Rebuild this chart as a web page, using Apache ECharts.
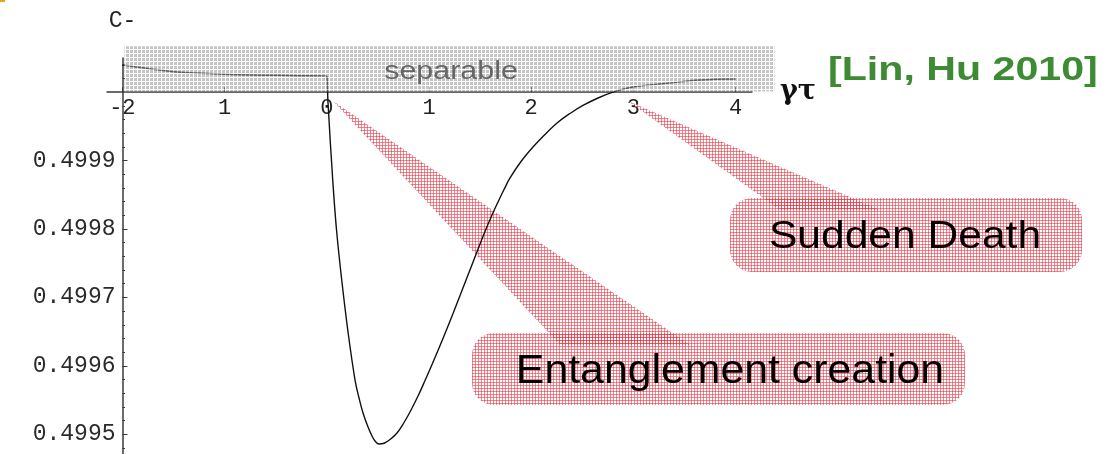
<!DOCTYPE html>
<html>
<head>
<meta charset="utf-8">
<script src="https://cdn.jsdelivr.net/npm/echarts@6/dist/echarts.min.js"></script>
<style>
  html, body { margin: 0; padding: 0; background: #ffffff; }
  #chart { width: 1107px; height: 454px; }
</style>
</head>
<body>
<div id="chart"></div>
<script>
// gamma*tau samples and the corresponding C- values
const gammaTau = [
  -2, -1.75, -1.5, -1.25, -1, -0.75, -0.5, -0.25, -0.01, 0,
  0.0123, 0.0583, 0.0955, 0.1464, 0.208, 0.2765, 0.3156, 0.3547, 0.4036, 0.4428, 0.4721,
  0.5113, 0.5602, 0.6189, 0.6873, 0.7558, 0.8243, 0.8928, 0.9613, 1.0297, 1.0982,
  1.1667, 1.2352, 1.3037, 1.3721, 1.4406, 1.4993, 1.558, 1.6167, 1.6754, 1.7341,
  1.7928, 1.9004, 2.0178, 2.1352, 2.2526, 2.3797, 2.5069, 2.6537, 2.8004,
  2.996, 3.3257, 3.6515, 4.0
];
const cMinus = [
  0.5000398, 0.5000346, 0.500030, 0.5000281, 0.5000262, 0.5000251, 0.5000247, 0.5000241, 0.5000238, 0.5000237,
  0.4999842, 0.4998716, 0.4997985, 0.4997254, 0.4996494, 0.4995792, 0.4995529, 0.499531, 0.4995105, 0.4994974, 0.4994901,
  0.4994857, 0.4994868, 0.4994923, 0.4995018, 0.4995171, 0.4995354, 0.4995558, 0.4995785, 0.4996019, 0.499626,
  0.4996509, 0.4996765, 0.4997028, 0.4997291, 0.4997554, 0.4997781, 0.4998, 0.4998205, 0.4998395, 0.4998577,
  0.4998746, 0.4998987, 0.4999199, 0.4999382, 0.499955, 0.4999689, 0.4999806, 0.4999915, 0.5,
  0.5000076, 0.500013, 0.5000178, 0.5000193
];

// axis ticks and their printed labels
const xTickValues = [-2, -1, 0, 1, 2, 3, 4];
const xTickLabels = ['-2', '1', '0', '1', '2', '3', '4'];
const yTickValues = [0.4995, 0.4996, 0.4997, 0.4998, 0.4999];
const yTickLabels = ['0.4995', '0.4996', '0.4997', '0.4998', '0.4999'];

// region above C- = 0.5 that marks separable states
const separableX = [-1.98, 4.38];
const separableTop = 0.500067;

// minor ticks every 0.00002 between the labelled ones
const yMinorTicks = [];
for (let i = 1; i <= 32; i++) {
  if (i % 5 !== 0) yMinorTicks.push(+(0.4994 + i * 0.00002).toFixed(6));
}

// small repeating tiles used as hatched fills
function gridTile(size, base, line) {
  const c = document.createElement('canvas');
  c.width = c.height = size;
  const g = c.getContext('2d');
  g.clearRect(0, 0, size, size);
  if (base) { g.fillStyle = base; g.fillRect(0, 0, size, size); }
  g.clearRect(0, 1, size, 1);
  g.clearRect(1, 0, 1, size);
  g.fillStyle = line;
  g.fillRect(0, 1, size, 1);
  g.fillRect(1, 0, 1, size);
  return c.toDataURL('image/png');
}
const grayFill = { image: gridTile(4, 'rgba(150,150,150,0.55)', 'rgba(255,255,255,0.6)'), repeat: 'repeat' };
const pinkFill = { image: gridTile(3, '#ffffff', 'rgba(238,48,64,0.58)'), repeat: 'repeat' };

const monoFont = 'Liberation Mono';
const axisColor = '#3a3a3a';

const chart = echarts.init(document.getElementById('chart'), null, { renderer: 'canvas' });

const yBase = {
  type: 'value',
  min: 0.4994,
  max: 0.50005,
  position: 'left',
  offset: -15.5,
  splitLine: { show: false }
};

chart.setOption({
  animation: false,
  backgroundColor: '#ffffff',
  grid: { left: 107, right: 355, top: 58, bottom: -48.6, containLabel: false, outerBoundsMode: 'none' },
  xAxis: {
    type: 'value',
    min: -2.15,
    max: 4.16,
    position: 'top',
    offset: -34.2,
    name: 'γτ',
    nameLocation: 'end',
    nameGap: 28,
    nameTextStyle: { fontFamily: 'DejaVu Serif', fontWeight: 'bold', fontSize: 27, color: '#111', padding: [0, 0, 6, 0] },
    axisLine: { show: true, onZero: false, lineStyle: { color: axisColor, width: 1.5 } },
    axisTick: { show: true, customValues: xTickValues, length: 5, lineStyle: { color: axisColor, width: 1 } },
    axisLabel: {
      show: true, inside: true, margin: 5,
      customValues: xTickValues,
      formatter: v => xTickLabels[xTickValues.indexOf(Math.round(v))],
      fontFamily: monoFont, fontSize: 22, color: '#222'
    },
    splitLine: { show: false }
  },
  yAxis: [
    Object.assign({}, yBase, {
      name: 'C-',
      nameLocation: 'end',
      nameGap: 26,
      nameTextStyle: { fontFamily: monoFont, fontSize: 23, color: '#222' },
      axisLine: { show: true, onZero: false, lineStyle: { color: axisColor, width: 1.5 } },
      axisTick: { show: true, inside: true, length: 5, customValues: yTickValues, lineStyle: { color: axisColor, width: 1 } },
      axisLabel: {
        show: true, margin: 7,
        customValues: yTickValues,
        formatter: v => yTickLabels[yTickValues.indexOf(+v.toFixed(4))],
        fontFamily: monoFont, fontSize: 23, color: '#2a2a2a'
      }
    }),
    Object.assign({}, yBase, {
      axisLine: { show: false, onZero: false },
      axisTick: { show: true, inside: true, length: 2.5, customValues: yMinorTicks, lineStyle: { color: axisColor, width: 1 } },
      axisLabel: { show: false }
    })
  ],
  series: [{
    type: 'line',
    data: gammaTau.map((x, i) => [x, cMinus[i]]),
    showSymbol: false,
    smooth: 0.4,
    lineStyle: { color: '#111111', width: 1.4 },
    z: 3
  }]
});

// annotation layer placed from the axes' own scale
const p0 = chart.convertToPixel({ gridIndex: 0 }, [separableX[0], 0.5]);
const p1 = chart.convertToPixel({ gridIndex: 0 }, [separableX[1], separableTop]);

function callout(box, tip, base, text, fontSize, stretch, textX, textY) {
  return [
    { type: 'polygon', z: 1, shape: { points: [tip, [base[0], box.y + 12], [base[1], box.y + 12]] }, style: { fill: pinkFill } },
    { type: 'rect', z: 1, shape: { x: box.x, y: box.y, width: box.w, height: box.h, r: 22 }, style: { fill: pinkFill } },
    { type: 'text', z: 12, x: textX, y: textY, scaleX: stretch,
      style: { text: text, fontFamily: 'Liberation Sans', fontSize: fontSize, fill: '#000', align: 'center', verticalAlign: 'middle' } }
  ];
}

chart.setOption({
  graphic: [
    { type: 'rect', z: 20, shape: { x: 0, y: 0, width: 5, height: 2 }, style: { fill: '#e8a317' } },
    { type: 'rect', z: 10, shape: { x: p0[0], y: p1[1], width: p1[0] - p0[0], height: p0[1] - p1[1] - 0.8 }, style: { fill: grayFill } },
    { type: 'text', z: 11, x: 451, y: 72, scaleX: 1.17,
      style: { text: 'separable', fontFamily: 'Liberation Sans', fontSize: 26, fill: '#666666', align: 'center', verticalAlign: 'middle' } },
    { type: 'text', z: 11, x: 828, y: 71, scaleX: 1.21,
      style: { text: '[Lin, Hu 2010]', fontFamily: 'Liberation Sans', fontWeight: 'bold', fontSize: 34, fill: '#3d8b33', align: 'left', verticalAlign: 'middle' } }
  ].concat(
    callout({ x: 730, y: 198, w: 352, h: 74 }, [628, 101], [780, 880], 'Sudden Death', 38, 1.12, 905, 238),
    callout({ x: 472, y: 333, w: 493, h: 72 }, [333, 101], [560, 690], 'Entanglement creation', 40, 1.07, 730, 372)
  )
});
</script>
</body>
</html>
